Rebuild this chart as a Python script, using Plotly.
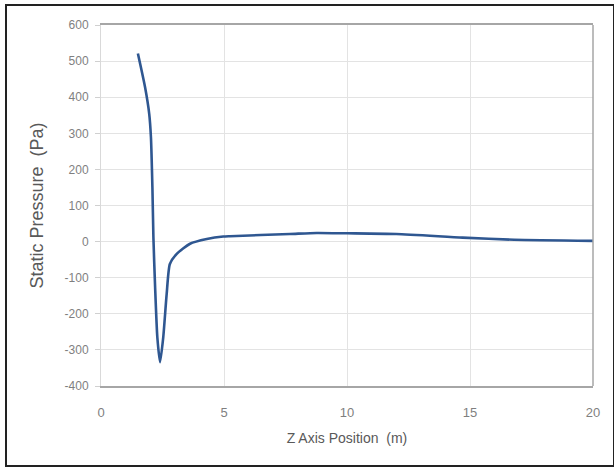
import plotly.graph_objects as go

z_pos = [1.50, 1.79, 1.96, 2.03, 2.09, 2.13, 2.20, 2.29, 2.40, 2.53, 2.67, 2.80, 3.08, 3.62, 4.30, 4.97,
         5.24, 7.68, 8.77, 10.0, 12.0, 14.7, 16.8, 20.0]
pressure = [521, 428, 354, 289, 150, 12, -127, -265, -334, -265, -145, -62, -34, -6, 7, 14,
            15, 21, 24, 23, 21, 11, 5, 2]

x_ticks = [0, 5, 10, 15, 20]
y_ticks = [600, 500, 400, 300, 200, 100, 0, -100, -200, -300, -400]
y_tick_text = [str(v) for v in y_ticks]

fig = go.Figure()
fig.add_trace(go.Scatter(x=z_pos, y=pressure, mode="lines",
                         line=dict(color="#2f5791", width=2.6, shape="spline", smoothing=0.6),
                         showlegend=False))

font_fam = "Liberation Sans Narrow, Liberation Sans, Arial"
fig.update_layout(
    width=614, height=468,
    margin=dict(l=101, r=21, t=25, b=82),
    paper_bgcolor="white", plot_bgcolor="white",
    font=dict(family=font_fam, color="#595959"),
    xaxis=dict(range=[0, 20], tickvals=x_ticks, showgrid=True, gridcolor="#e3e3e3", gridwidth=1,
               zeroline=False, showline=True, linecolor="#a6a6a6", linewidth=1.5, mirror=True,
               ticks="", ticklabelstandoff=14, tickfont=dict(size=13, color="#7f7f7f"),
               title=dict(text="Z Axis Position  (m)", font=dict(size=14, color="#595959"), standoff=14)),
    yaxis=dict(range=[-400, 600], tickvals=y_ticks, ticktext=y_tick_text,
               showgrid=True, gridcolor="#e3e3e3", gridwidth=1,
               zeroline=False, showline=True, linecolor="#d9d9d9", linewidth=1,
               ticks="outside", ticklen=5, tickcolor="#d0d0d0", ticklabelstandoff=4,
               tickfont=dict(size=12, color="#7f7f7f"),
               title=dict(text="Static Pressure  (Pa)", font=dict(size=18, color="#595959"), standoff=16)),
)
# right edge of plot frame
fig.add_shape(type="line", xref="paper", yref="paper", x0=1, x1=1, y0=0, y1=1,
              line=dict(color="#a6a6a6", width=1.5))
# outer border of the image
fig.add_shape(type="rect", xref="paper", yref="paper",
              x0=(6 - 101) / 492, x1=(614 - 101) / 492,
              y0=(386 - 466) / 361, y1=(386 - 5) / 361,
              line=dict(color="#222222", width=2), layer="above")

fig.write_html("out.html")
